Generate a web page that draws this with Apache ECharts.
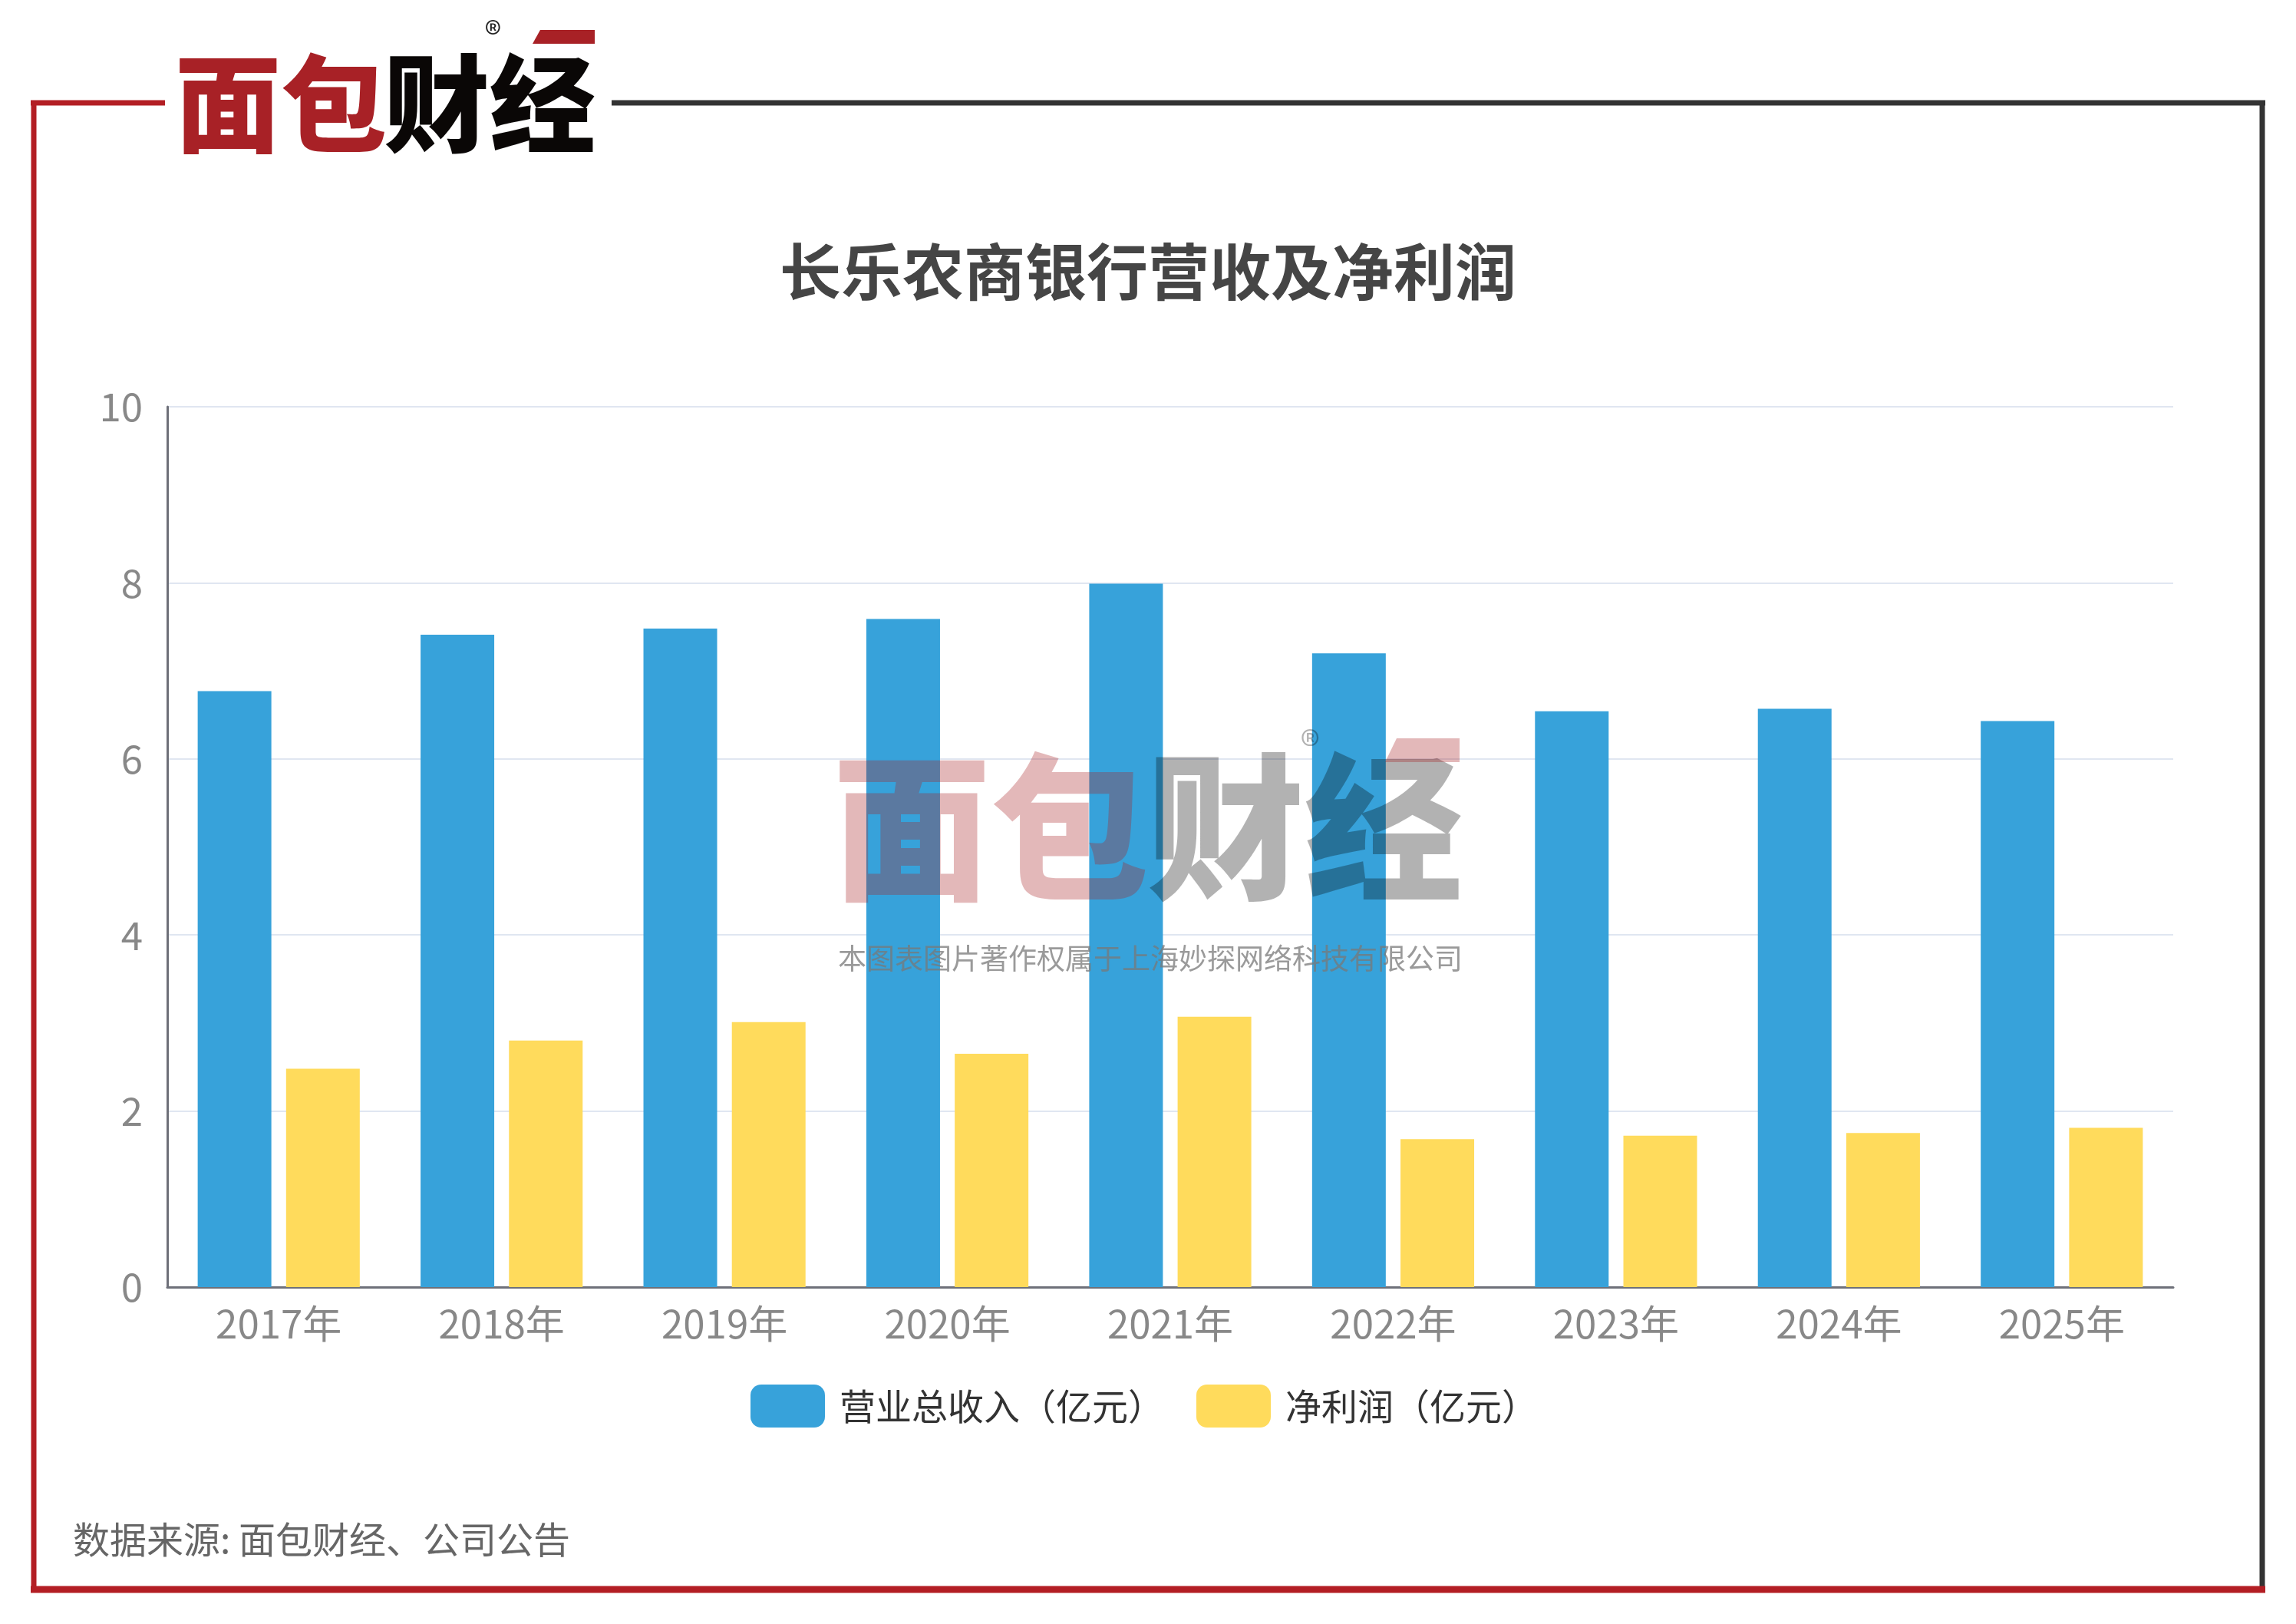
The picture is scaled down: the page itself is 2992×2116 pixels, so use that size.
<!DOCTYPE html>
<html><head><meta charset="utf-8">
<script src="https://cdn.jsdelivr.net/npm/echarts@6/dist/echarts.min.js"></script>
<style>html,body{margin:0;padding:0;background:#fff}#c{width:2992px;height:2116px}</style>
</head><body><div id="c"></div>
<script>
const categories = ['2017年','2018年','2019年','2020年','2021年','2022年','2023年','2024年','2025年'];
const revenue = [6.77, 7.41, 7.48, 7.59, 7.99, 7.20, 6.54, 6.57, 6.43];
const netProfit = [2.48, 2.80, 3.01, 2.65, 3.07, 1.68, 1.72, 1.75, 1.81];
const seriesNames = ['营业总收入（亿元）', '净利润（亿元）'];
const yTicks = {min: 0, max: 10, interval: 2};

const FONT = '"Noto Sans CJK SC","Noto Sans",sans-serif';
const chart = echarts.init(document.getElementById('c'), null, {renderer: 'canvas'});
const WZ = 100;
chart.setOption({
  backgroundColor: '#fff',
  animation: false,
  title: {
    text: '长乐农商银行营收及净利润',
    left: 'center', top: 309,
    textStyle: {fontSize: 80, fontWeight: 'bold', color: '#454545', fontFamily: FONT}
  },
  grid: {left: 218, right: 160, top: 530, bottom: 439, containLabel: false},
  legend: {
    left: 973, top: 1799,
    itemWidth: 97, itemHeight: 56, itemGap: 42,
    icon: 'roundRect',
    textStyle: {fontSize: 47, color: '#333', fontFamily: FONT, padding: [0, 0, 0, 14]},
    data: seriesNames
  },
  xAxis: {
    type: 'category', data: categories,
    axisLine: {lineStyle: {color: '#6E7079', width: 3}},
    axisTick: {length: 16, lineStyle: {color: '#6E7079', width: 2}},
    axisLabel: {fontSize: 51, color: '#888', margin: 22, fontFamily: FONT}
  },
  yAxis: {
    type: 'value', min: yTicks.min, max: yTicks.max, interval: yTicks.interval,
    axisLine: {show: true, lineStyle: {color: '#6E7079', width: 3}},
    axisTick: {show: false},
    axisLabel: {fontSize: 51, color: '#888', margin: 32, fontFamily: FONT},
    splitLine: {lineStyle: {color: '#E0E6F1', width: 2}}
  },
  series: [
    {name: seriesNames[0], type: 'bar', data: revenue, barWidth: 96, barGap: '20%',
     itemStyle: {color: '#37A2DA'}},
    {name: seriesNames[1], type: 'bar', data: netProfit, barWidth: 96,
     itemStyle: {color: '#FFDB5C'}}
  ],
  graphic: [
    {type: 'line', shape: {x1: 40, y1: 134, x2: 215, y2: 134}, style: {stroke: '#B31E24', lineWidth: 7}},
    {type: 'line', shape: {x1: 44, y1: 131, x2: 44, y2: 2074}, style: {stroke: '#B31E24', lineWidth: 7}},
    {type: 'line', shape: {x1: 797, y1: 134, x2: 2952, y2: 134}, style: {stroke: '#333', lineWidth: 7}},
    {type: 'line', shape: {x1: 2948, y1: 131, x2: 2948, y2: 2074}, style: {stroke: '#333', lineWidth: 7}},
    {type: 'line', shape: {x1: 40, y1: 2071, x2: 2952, y2: 2071}, style: {stroke: '#B31E24', lineWidth: 9}},
    // header logo
    {type: 'text', left: 228, top: 66, style: {text: '面包', fill: '#A82126', font: '900 138px ' + FONT}},
    {type: 'text', left: 500, top: 66, style: {text: '财经', fill: '#0A0706', font: '900 138px ' + FONT}},
    {type: 'text', left: 632, top: 22, style: {text: '®', fill: '#222', font: '44px ' + FONT}},
    {type: 'polygon', shape: {points: [[704, 39], [775, 39], [775, 57], [694, 57]]}, style: {fill: '#A82126'}},
    // watermark (over the bars)
    {type: 'text', z: WZ, silent: true, left: 1085, top: 975, style: {text: '面包', fill: 'rgba(168,33,38,0.32)', font: '900 206px ' + FONT}},
    {type: 'text', z: WZ, silent: true, left: 1494, top: 975, style: {text: '财经', fill: 'rgba(0,0,0,0.30)', font: '900 206px ' + FONT}},
    {type: 'text', z: WZ, silent: true, left: 1695, top: 945, style: {text: '®', fill: 'rgba(0,0,0,0.3)', font: '52px ' + FONT}},
    {type: 'polygon', z: WZ, silent: true, shape: {points: [[1820, 962], [1902, 962], [1902, 993], [1805, 993]]}, style: {fill: 'rgba(168,33,38,0.32)'}},
    {type: 'text', z: WZ, silent: true, left: 1092, top: 1230, style: {text: '本图表图片著作权属于上海妙探网络科技有限公司', fill: 'rgba(120,120,120,0.75)', font: '37px ' + FONT}},
    // footer
    {type: 'text', left: 95, top: 1982, style: {text: '数据来源: 面包财经、公司公告', fill: '#666', font: '48px ' + FONT}}
  ]
});
</script></body></html>
